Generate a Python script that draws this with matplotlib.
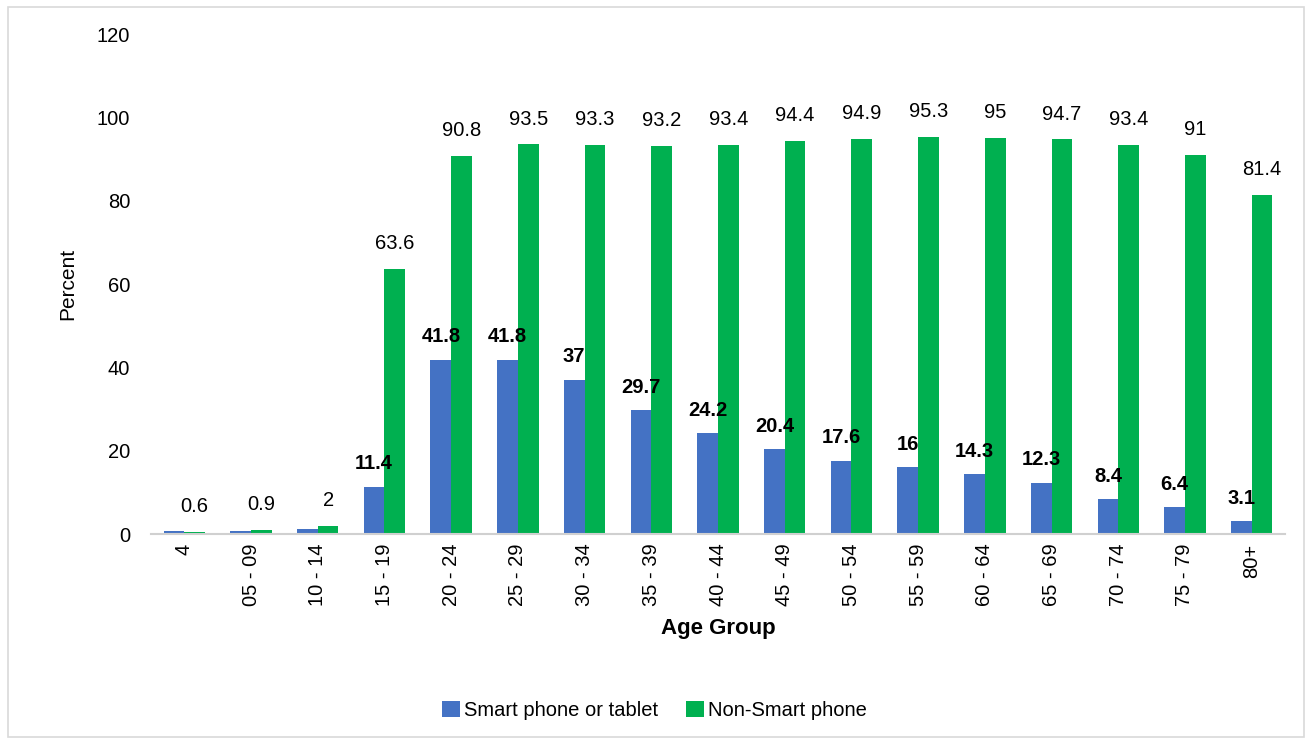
import numpy as np
import matplotlib.pyplot as plt

plt.rcParams['font.family'] = ['Liberation Sans', 'DejaVu Sans']

age_groups = ['4', '05 - 09', '10 - 14', '15 - 19', '20 - 24', '25 - 29', '30 - 34',
              '35 - 39', '40 - 44', '45 - 49', '50 - 54', '55 - 59', '60 - 64',
              '65 - 69', '70 - 74', '75 - 79', '80+']
smart = [0.8, 0.8, 1.1, 11.4, 41.8, 41.8, 37, 29.7, 24.2, 20.4, 17.6, 16, 14.3,
         12.3, 8.4, 6.4, 3.1]
non_smart = [0.6, 0.9, 2, 63.6, 90.8, 93.5, 93.3, 93.2, 93.4, 94.4, 94.9, 95.3, 95,
             94.7, 93.4, 91, 81.4]
# first three smart values are not labelled in the original
smart_labelled = [False, False, False] + [True] * 14

fig = plt.figure(figsize=(13.09, 7.41), dpi=100)
ax = fig.add_axes([151 / 1309, 1 - 534 / 741, 1134 / 1309, 500 / 741])

x = np.arange(len(age_groups))
w = 0.31
b1 = ax.bar(x - w / 2, smart, w, color='#4472C4', label='Smart phone or tablet')
b2 = ax.bar(x + w / 2, non_smart, w, color='#00B050', label='Non-Smart phone')

fs = 14.5
for i, r in enumerate(b1):
    if smart_labelled[i]:
        ax.text(r.get_x() + r.get_width() / 2, r.get_height() + 3.2, f'{smart[i]:g}',
                ha='center', va='bottom', fontsize=fs, fontweight='bold')
for i, r in enumerate(b2):
    ax.text(r.get_x() + r.get_width() / 2, r.get_height() + 3.8, f'{non_smart[i]:g}',
            ha='center', va='bottom', fontsize=fs)

ax.set_ylim(0, 120)
ax.set_xlim(-0.5, len(age_groups) - 0.5)
ax.set_yticks(range(0, 121, 20))
ax.set_xticks(x)
ax.set_xticklabels(age_groups, rotation=90, fontsize=fs)
ax.tick_params(axis='y', length=0, labelsize=fs, pad=15)
ax.tick_params(axis='x', length=0, pad=7)
for s in ['top', 'right', 'left']:
    ax.spines[s].set_visible(False)
ax.spines['bottom'].set_color('#d0d0d0')
ax.spines['bottom'].set_linewidth(1.5)

ax.set_ylabel('Percent', fontsize=15, labelpad=14)
ax.set_xlabel('Age Group', fontsize=16, fontweight='bold', labelpad=8)

fig.legend(loc='lower center', bbox_to_anchor=(0.5, 0.004), ncol=2, frameon=False,
           fontsize=fs, handlelength=0.9, handleheight=0.9, handletextpad=0.2,
           columnspacing=1.4)

border = plt.Rectangle((0.006, 0.006), 0.99, 0.985, transform=fig.transFigure,
                       fill=False, edgecolor='#d9d9d9', linewidth=1.2)
fig.patches.append(border)

fig.savefig('out.png', dpi=100)
